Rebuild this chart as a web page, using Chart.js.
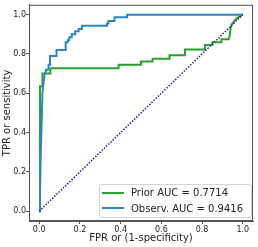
<!DOCTYPE html>
<html>
<head>
<meta charset="utf-8">
<script src="https://cdn.jsdelivr.net/npm/chart.js@4.4.0/dist/chart.umd.min.js"></script>
<style>
    html, body { margin: 0; padding: 0; background: #fff; }
    #wrap { position: relative; width: 258px; height: 247px; }
    #legend {
        position: absolute; left: 99px; top: 184px; width: 153px; height: 34px;
        border: 1px solid #d4d4d4; border-radius: 3px; background: rgba(255, 255, 255, 0.85);
        box-sizing: border-box; font: 10px "DejaVu Sans"; color: #222;
    }
    .item { position: absolute; left: 2px; height: 12px; display: flex; align-items: center; white-space: nowrap; }
    .swatch { width: 22px; height: 0; border-top: 2px solid; margin-right: 7px; }
</style>
</head>
<body>
<div id="wrap">
    <canvas id="roc" width="258" height="247"></canvas>
    <div id="legend"></div>
</div>
<script>
// ROC curves
const priorFpr = [0, 0.004, 0.004, 0.016, 0.016, 0.055, 0.055, 0.39, 0.39, 0.50, 0.50, 0.557, 0.557, 0.64, 0.64, 0.716, 0.716, 0.814, 0.814, 0.85, 0.85, 0.895, 0.895, 0.93, 0.935, 0.94, 0.945, 0.952, 0.96, 0.975, 0.99, 1.0];
const priorTpr = [0, 0, 0.635, 0.635, 0.70, 0.70, 0.727, 0.727, 0.745, 0.745, 0.762, 0.762, 0.776, 0.776, 0.793, 0.793, 0.823, 0.823, 0.845, 0.845, 0.86, 0.86, 0.875, 0.875, 0.89, 0.93, 0.95, 0.96, 0.97, 0.985, 0.995, 1.0];

const observFpr = [0, 0.004, 0.008, 0.012, 0.016, 0.022, 0.028, 0.033, 0.033, 0.046, 0.046, 0.053, 0.053, 0.085, 0.085, 0.13, 0.13, 0.14, 0.14, 0.148, 0.148, 0.16, 0.16, 0.177, 0.177, 0.194, 0.194, 0.21, 0.21, 0.333, 0.333, 0.34, 0.34, 0.37, 0.37, 0.432, 0.432, 1.0];
const observTpr = [0, 0.1, 0.3, 0.45, 0.6, 0.66, 0.7, 0.71, 0.72, 0.72, 0.745, 0.745, 0.79, 0.79, 0.82, 0.82, 0.86, 0.86, 0.87, 0.87, 0.885, 0.885, 0.9, 0.9, 0.915, 0.915, 0.927, 0.927, 0.943, 0.943, 0.955, 0.955, 0.967, 0.967, 0.987, 0.987, 1.0, 1.0];

const chanceFpr = [0, 1];
const chanceTpr = [0, 1];

const seriesLabels = ['Prior AUC = 0.7714', 'Observ. AUC = 0.9416'];
const axisTicks = [0, 0.2, 0.4, 0.6, 0.8, 1.0];

const toPoints = (xs, ys) => xs.map((x, i) => ({ x: x, y: ys[i] }));

const frame = {
    id: 'frame',
    afterDraw(chart) {
        const a = chart.chartArea;
        const c = chart.ctx;
        c.save();
        c.strokeStyle = '#555';
        c.lineWidth = 1;
        c.strokeRect(a.left + 0.5, a.top + 0.5, a.right - a.left - 1, a.bottom - a.top - 1);
        c.restore();
    }
};

const tickFont = { family: 'DejaVu Sans', size: 8 };
const titleFont = { family: 'DejaVu Sans', size: 10 };

function axis(title, fitSize, titlePad, tickPad) {
    return {
        type: 'linear',
        min: -0.05,
        max: 1.05,
        afterBuildTicks: (s) => { s.ticks = axisTicks.map(v => ({ value: v })); },
        afterFit: (s) => { if (s.isHorizontal()) s.height = fitSize; else s.width = fitSize; },
        ticks: { color: '#222', font: tickFont, padding: tickPad, callback: (v) => Number(v).toFixed(1) },
        grid: { drawOnChartArea: false, drawTicks: true, tickLength: 3, color: '#555' },
        border: { display: true, color: '#555' },
        title: { display: true, text: title, color: '#222', font: titleFont, padding: titlePad }
    };
}

const chart = new Chart(document.getElementById('roc'), {
    type: 'scatter',
    data: {
        datasets: [
            {
                label: seriesLabels[0],
                data: toPoints(priorFpr, priorTpr),
                showLine: true, borderColor: '#2ca02c', borderWidth: 2, pointRadius: 0, order: 3
            },
            {
                label: seriesLabels[1],
                data: toPoints(observFpr, observTpr),
                showLine: true, borderColor: '#2b85c7', borderWidth: 2, pointRadius: 0, order: 2
            },
            {
                label: 'chance',
                data: toPoints(chanceFpr, chanceTpr),
                showLine: true, borderColor: '#2222a8', borderWidth: 1.5, borderDash: [1.5, 1.5], pointRadius: 0, order: 1
            }
        ]
    },
    options: {
        responsive: false,
        animation: false,
        layout: { padding: { top: 4, right: 5, left: 0, bottom: 0 } },
        plugins: { legend: { display: false }, tooltip: { enabled: false } },
        scales: {
            x: axis('FPR or (1-specificity)', 26, { top: 1, bottom: 3 }, 1),
            y: axis('TPR or sensitivity', 29, { top: 1, bottom: 0 }, 0)
        }
    },
    plugins: [frame]
});

// legend as real text
const legend = document.getElementById('legend');
chart.data.datasets.slice(0, 2).forEach((ds, i) => {
    const item = document.createElement('div');
    item.className = 'item';
    item.style.top = (i === 0 ? 1.5 : 17) + 'px';
    const sw = document.createElement('span');
    sw.className = 'swatch';
    sw.style.borderColor = ds.borderColor;
    const tx = document.createElement('span');
    tx.textContent = ds.label;
    item.appendChild(sw);
    item.appendChild(tx);
    legend.appendChild(item);
});
</script>
</body>
</html>
